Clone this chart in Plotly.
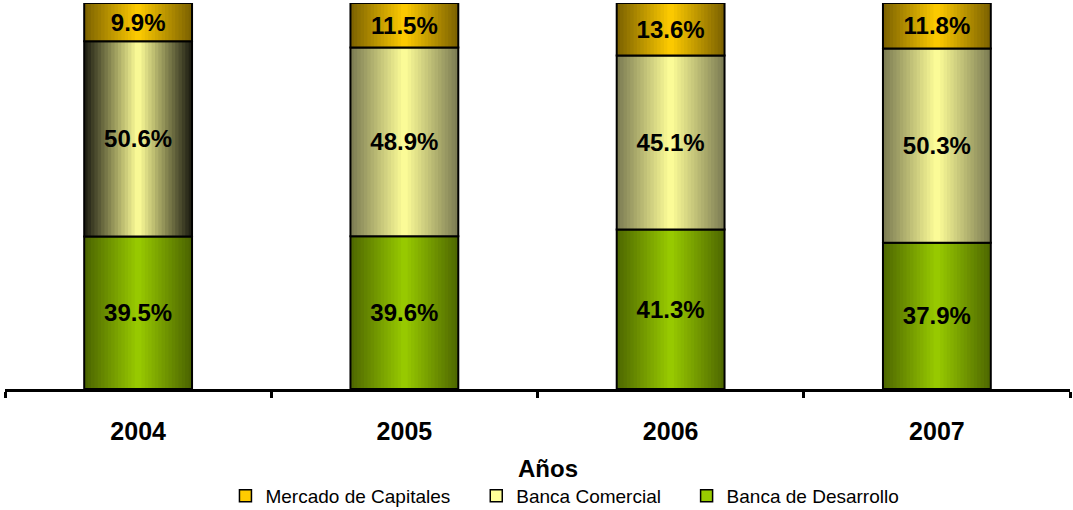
import plotly.graph_objects as go

# ---- data ----
years = ["2004", "2005", "2006", "2007"]
banca_desarrollo = [39.5, 39.6, 41.3, 37.9]
banca_comercial = [50.6, 48.9, 45.1, 50.3]
mercado_capitales = [9.9, 11.5, 13.6, 11.8]
series_names = ["Banca de Desarrollo", "Banca Comercial", "Mercado de Capitales"]
x_title = "Años"

FONT = "Liberation Sans, Arial, sans-serif"
BAR_W = 0.405
N = 16  # gradient layers


def hex2rgb(h):
    h = h.lstrip("#")
    return tuple(int(h[i:i + 2], 16) for i in (0, 2, 4))


def mix(c_center, c_edge, t):
    a, b = hex2rgb(c_center), hex2rgb(c_edge)
    r = [round(a[i] + (b[i] - a[i]) * t) for i in range(3)]
    return f"rgb({r[0]},{r[1]},{r[2]})"


# base of each stacked segment from the data
base_desarrollo = [0.0] * len(years)
base_comercial = list(banca_desarrollo)
base_mercado = [d + c for d, c in zip(banca_desarrollo, banca_comercial)]

styles = [
    dict(name=series_names[0], vals=banca_desarrollo, base=base_desarrollo,
         center="#99CC00", edges=["#4A6200", "#4D6600", "#4D6600", "#4D6600"], legend="legend3"),
    dict(name=series_names[1], vals=banca_comercial, base=base_comercial,
         center="#FFFF99", edges=["#1A1A10", "#7A7A52", "#7A7A52", "#7A7A52"], legend="legend2"),
    dict(name=series_names[2], vals=mercado_capitales, base=base_mercado,
         center="#FFCC00", edges=["#7A6000", "#7A6000", "#7A6000", "#7A6000"], legend="legend"),
]

fig = go.Figure()

for s in styles:
    for k in range(N):
        d = 1 - k / N
        t = d - 0.5 / N
        fig.add_trace(go.Bar(
            x=years, y=s["vals"], base=s["base"], width=BAR_W * d,
            marker=dict(color=[mix(s["center"], e, t) for e in s["edges"]], line=dict(width=0)),
            showlegend=False, hoverinfo="skip",
        ))
    # outline + label
    fig.add_trace(go.Bar(
        x=years, y=s["vals"], base=s["base"], width=BAR_W,
        marker=dict(color="rgba(0,0,0,0)", line=dict(color="black", width=2)),
        text=[f"{v:.1f}%" for v in s["vals"]],
        textposition="inside", insidetextanchor="middle", textangle=0,
        constraintext="none",
        textfont=dict(family=FONT, size=24, color="black", weight="bold"),
        showlegend=False, name=s["name"],
    ))
    # legend entry
    fig.add_trace(go.Bar(
        x=[None], y=[None], name=s["name"],
        marker=dict(color=s["center"], line=dict(color="black", width=1.5)),
        legend=s["legend"], showlegend=True,
    ))

leg_common = dict(orientation="h", yanchor="middle", y=-0.277, xanchor="left",
                  font=dict(family=FONT, size=19, color="black"),
                  bgcolor="rgba(0,0,0,0)", borderwidth=0)

fig.update_layout(
    width=1073, height=510,
    margin=dict(l=5, r=3, t=3, b=121, autoexpand=False),
    barmode="overlay",
    paper_bgcolor="white", plot_bgcolor="white",
    font=dict(family=FONT, color="black"),
    legend=dict(x=0.207, **leg_common),
    legend2=dict(x=0.4425, **leg_common),
    legend3=dict(x=0.640, **leg_common),
    xaxis=dict(
        type="category", categoryorder="array", categoryarray=years,
        range=[-0.5, len(years) - 0.5],
        showline=True, linecolor="black", linewidth=3,
        ticks="outside", tickson="boundaries", ticklen=6, tickwidth=3, tickcolor="black",
        tickfont=dict(family=FONT, size=25, color="black", weight="bold"),
        ticklabelstandoff=18,
        showgrid=False, zeroline=False, automargin=False,
    ),
    yaxis=dict(range=[0, 100], visible=False, fixedrange=True, automargin=False),
    annotations=[dict(
        text=x_title, xref="paper", yref="paper", x=0.51, y=-0.205,
        xanchor="center", yanchor="middle", showarrow=False,
        font=dict(family=FONT, size=24, color="black", weight="bold"),
    )],
)

fig.write_html("out.html", config={"displayModeBar": False},
               post_script="document.body.style.margin='0';")
